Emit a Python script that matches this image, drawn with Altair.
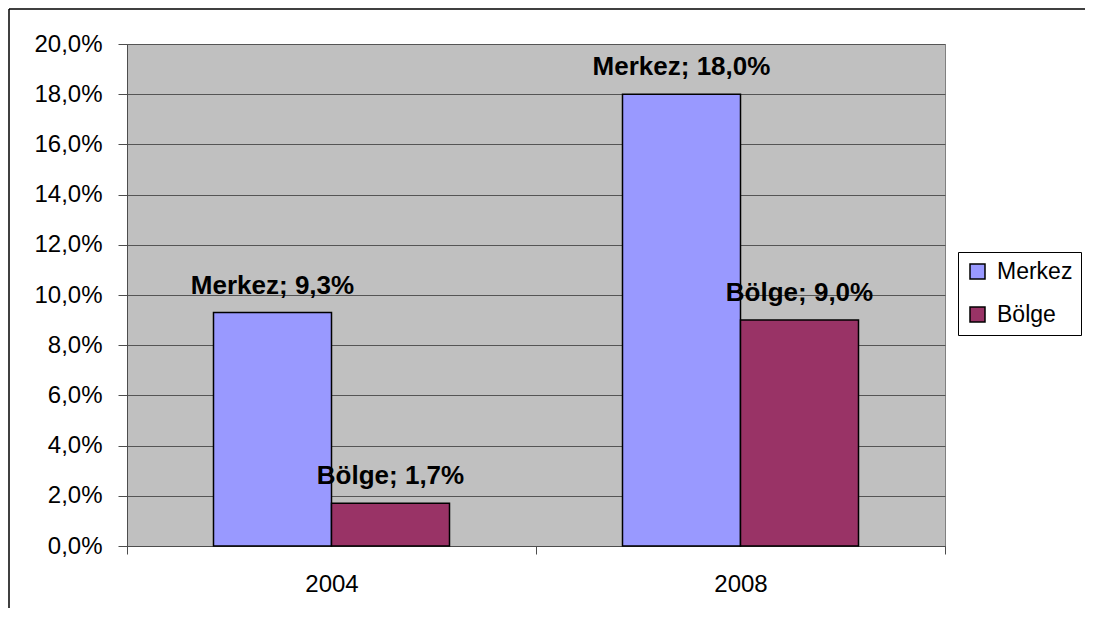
import altair as alt
import pandas as pd

years = ["2004", "2008"]
series = ["Merkez", "Bölge"]
merkez = [9.3, 18.0]
bolge = [1.7, 9.0]
colors = ["#9999FF", "#993366"]
y_ticks = [0, 2, 4, 6, 8, 10, 12, 14, 16, 18, 20]

rows = []
for i, yr in enumerate(years):
    for s, vals in zip(series, [merkez, bolge]):
        v = vals[i]
        rows.append({"year": yr, "series": s, "value": v,
                     "label": f"{s}; " + f"{v:.1f}".replace(".", ",") + "%"})
df = pd.DataFrame(rows)

FONT = "Liberation Sans"

x = alt.X("year:N", title=None,
          scale=alt.Scale(paddingInner=0, paddingOuter=0),
          axis=alt.Axis(labelAngle=0, tickBand="extent", tickSize=8,
                        labelPadding=18, labelFontSize=24, labelFont=FONT,
                        labelColor="black", domainColor="#4d4d4d",
                        tickColor="#4d4d4d", grid=False))
xo = alt.XOffset("series:N", sort=series,
                 scale=alt.Scale(paddingOuter=0.733, paddingInner=0))
y = alt.Y("value:Q", title=None,
          scale=alt.Scale(domain=[0, 20], nice=False),
          axis=alt.Axis(values=y_ticks, tickSize=9, labelPadding=16,
                        labelFontSize=24, labelFont=FONT, labelColor="black",
                        labelExpr="replace(format(datum.value, '.1f'), '.', ',') + '%'",
                        domainColor="#4d4d4d", tickColor="#4d4d4d",
                        gridColor="#555555", gridWidth=1))

color = alt.Color("series:N", title=None, sort=series,
                  scale=alt.Scale(domain=series, range=colors),
                  legend=alt.Legend(orient="none", legendX=831, legendY=208,
                                    strokeColor="black", fillColor="white",
                                    padding=8, symbolType="square",
                                    symbolSize=225, symbolStrokeColor="black",
                                    symbolStrokeWidth=1.5, symbolOpacity=1,
                                    labelFontSize=23, labelFont=FONT,
                                    labelColor="black", rowPadding=19,
                                    labelOffset=8))

bars = alt.Chart(df).mark_bar(stroke="black", strokeWidth=1.5, opacity=1).encode(
    x=x, xOffset=xo, y=y, color=color)

text = alt.Chart(df).mark_text(font=FONT, fontSize=26, fontWeight="bold",
                               color="black", baseline="alphabetic",
                               align="center", dy=-19).encode(
    x=x, xOffset=xo, y=y, text="label:N")

border_data = alt.Data(values=[{"k": 1}])
top_border = alt.Chart(border_data).mark_rule(color="black", strokeWidth=1.5).encode(
    x=alt.value(-118), x2=alt.value(958), y=alt.value(-35))
left_border = alt.Chart(border_data).mark_rule(color="black", strokeWidth=1.5).encode(
    x=alt.value(-118), y=alt.value(-35), y2=alt.value(564))

chart = alt.layer(bars, text, top_border, left_border).properties(
    width=818, height=502,
    autosize="none",
    padding={"left": 119, "top": 36, "right": 140, "bottom": 62},
    background="white",
).configure_view(fill="#C0C0C0", stroke="#808080", strokeWidth=1)

chart.save("out.html", embed_options={"renderer": "svg", "actions": False})
